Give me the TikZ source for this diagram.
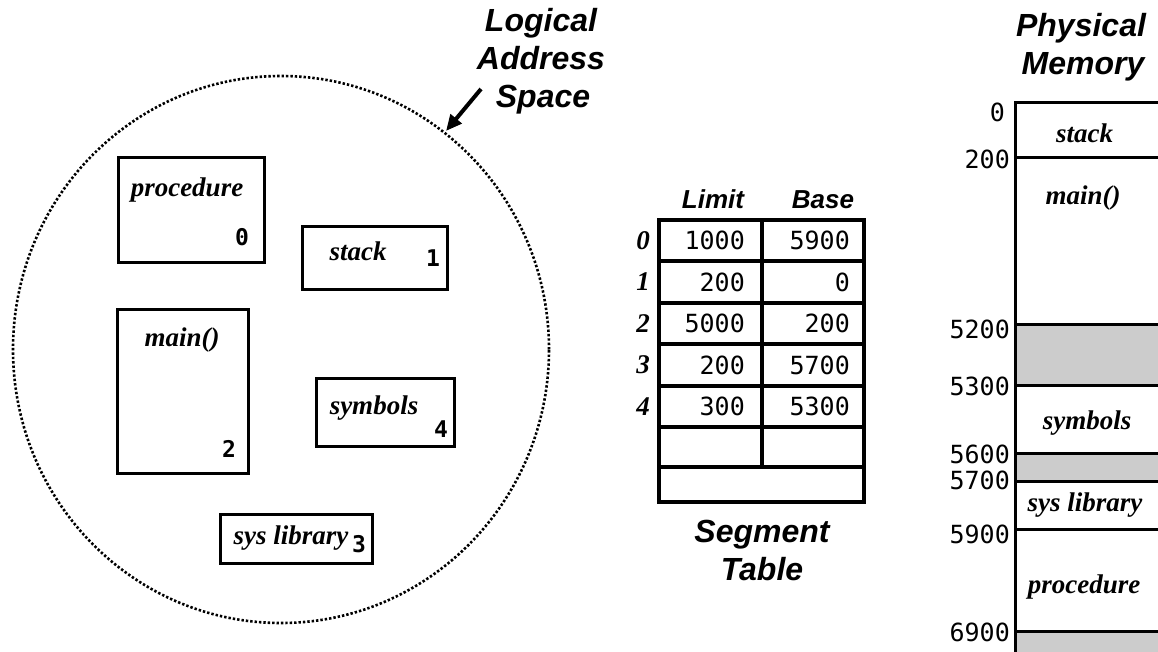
\documentclass[tikz,border=0pt]{standalone}
\usepackage{fontspec}
\usetikzlibrary{arrows.meta}
\newfontfamily\hfont{Liberation Sans}
\newfontfamily\serfont{Liberation Serif}
\newfontfamily\monofont{DejaVu Sans Mono}
\tikzset{
  head/.style={inner sep=0pt, font=\hfont\bfseries\itshape\fontsize{32}{38}\selectfont},
  colhead/.style={inner sep=0pt, font=\hfont\bfseries\itshape\fontsize{26}{30}\selectfont},
  seglabel/.style={inner sep=0pt, font=\serfont\bfseries\itshape\fontsize{27}{32}\selectfont},
  segnum/.style={inner sep=0pt, font=\monofont\bfseries\fontsize{23}{26}\selectfont},
  num/.style={inner sep=0pt, font=\monofont\fontsize{25}{30}\selectfont},
  lbox/.style={draw, line width=3pt, inner sep=0pt},
  tline/.style={line width=3.2pt},
  memline/.style={line width=3pt},
  gap/.style={fill=black!20},
  arrowst/.style={line width=4pt, -{Triangle[length=16pt,width=14pt]}},
  dotted circle/.style={line width=2.6pt, dash pattern=on 2.4pt off 2pt}
}
\begin{document}
\begin{tikzpicture}[x=1pt,y=-1pt]
\clip (0,0) rectangle (1158,652);
\fill[white] (0,0) rectangle (1158,652);

% ---------- Logical address space ----------
\draw[dotted circle] (281,349.5) ellipse [x radius=268pt, y radius=273.5pt];
\node[head, anchor=base] (las1) at (541,32) {Logical};
\node[head, anchor=base] (las2) at (541,70) {Address};
\node[head, anchor=base] (las3) at (543,108) {Space};
\coordinate (atail) at (481,89);
\coordinate (ahead) at (446,131);
\draw[arrowst] (atail) -- (ahead);

\node[lbox, minimum width=146pt, minimum height=104pt] (procbox) at (191,210) {};
\node[seglabel] (proct) at (187,190) {procedure};
\node[segnum] (proc0) at (242,237) {0};

\node[lbox, minimum width=145pt, minimum height=62pt] (stackbox) at (374.5,258) {};
\node[seglabel] (stackt) at (358,251) {stack};
\node[segnum] (stack1) at (433,258) {1};

\node[lbox, minimum width=131pt, minimum height=164pt] (mainbox) at (182.5,391) {};
\node[seglabel] (maint) at (182,340) {main()};
\node[segnum] (main2) at (229,449) {2};

\node[lbox, minimum width=138pt, minimum height=68pt] (symbox) at (385,412) {};
\node[seglabel] (symt) at (374,408) {symbols};
\node[segnum] (sym4) at (441,429) {4};

\node[lbox, minimum width=152pt, minimum height=49pt] (sysbox) at (296,538.5) {};
\node[seglabel] (syst) at (291,538) {sys library};
\node[segnum] (sys3) at (359,544) {3};

% ---------- Segment table ----------
\node[colhead, anchor=base] (limith) at (713,209) {Limit};
\node[colhead, anchor=base] (baseh) at (823,209) {Base};
\draw[tline] (659,220) rectangle (864,502);
\foreach \yy in {261,303,344,386,427,467} \draw[tline] (659,\yy) -- (864,\yy);
\draw[tline] (762,220) -- (762,467);
\foreach \i/\yc/\lim/\bas in {0/240.5/1000/5900, 1/282/200/0, 2/323.5/5000/200, 3/365/200/5700, 4/406.5/300/5300}{
  \node[seglabel] (row\i) at (643,\yc) {\i};
  \node[num, anchor=east] (lim\i) at (745,\yc) {\lim};
  \node[num, anchor=east] (bas\i) at (850,\yc) {\bas};
}
\node[head, anchor=base] (segt1) at (762,542) {Segment};
\node[head, anchor=base] (segt2) at (762,580) {Table};

% ---------- Physical memory ----------
\node[head, anchor=base] (pm1) at (1081,37) {Physical};
\node[head, anchor=base] (pm2) at (1083,75) {Memory};
\fill[gap] (1015,324) rectangle (1175,385);
\fill[gap] (1015,453) rectangle (1175,481);
\fill[gap] (1015,631) rectangle (1175,670);
\draw[memline] (1175,103) -- (1015,103) -- (1015,670);
\foreach \yy in {158,324,385,453,481,529,631} \draw[memline] (1015,\yy) -- (1175,\yy);

\node[num, anchor=east] (m0) at (1005,112) {0};
\node[num, anchor=east] (m200) at (1010,159) {200};
\node[num, anchor=east] (m5200) at (1010,329) {5200};
\node[num, anchor=east] (m5300) at (1010,386) {5300};
\node[num, anchor=east] (m5600) at (1010,454) {5600};
\node[num, anchor=east] (m5700) at (1010,480) {5700};
\node[num, anchor=east] (m5900) at (1010,534) {5900};
\node[num, anchor=east] (m6900) at (1010,632) {6900};

\node[seglabel] (pstack) at (1084.5,133) {stack};
\node[seglabel] (pmain) at (1083,198) {main()};
\node[seglabel] (psym) at (1087,423) {symbols};
\node[seglabel] (psys) at (1085,505) {sys library};
\node[seglabel] (pproc) at (1084,587) {procedure};
\end{tikzpicture}
\end{document}
